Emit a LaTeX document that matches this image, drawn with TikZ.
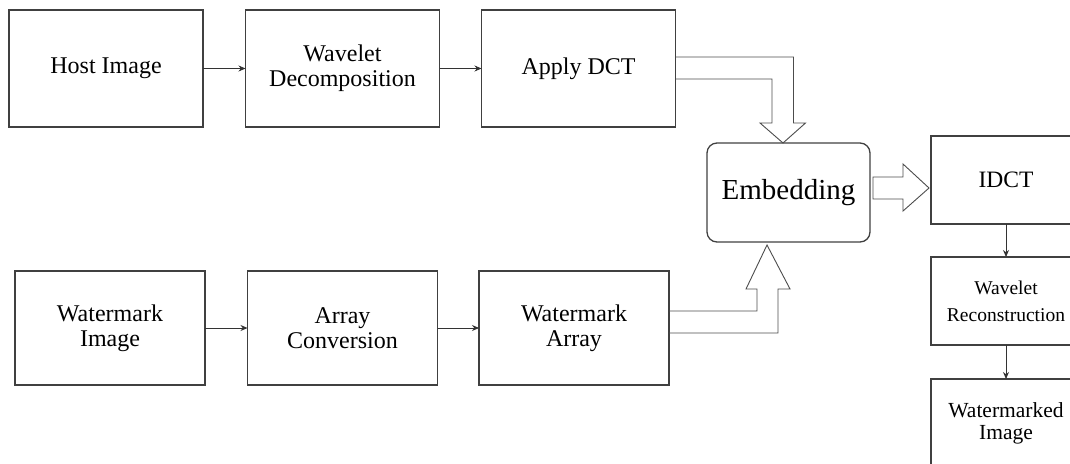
\documentclass[tikz,border=0pt]{standalone}
\usepackage{fontspec}
\setmainfont{Liberation Serif}
\usetikzlibrary{calc,arrows.meta}

\tikzset{
  stage/.style={draw=black!75, line width=1.3pt, inner sep=0pt, outer sep=0pt,
    align=center, font=\fontsize{24}{25}\selectfont},
  topstage/.style={stage, minimum width=194, minimum height=117},
  lowstage/.style={stage, minimum width=190, minimum height=114},
  outstage/.style={stage, minimum width=150, minimum height=88},
  flow/.style={draw=black!80, line width=0.9pt, -{Stealth[length=7pt,width=6pt]}},
  blockarrow/.style={draw=black!70, line width=0.9pt, line join=miter}
}

\begin{document}
\begin{tikzpicture}[x=1pt,y=-1pt]
  \useasboundingbox (0,0) rectangle (1070,463);
  \clip (0,0) rectangle (1070,463);

  % host image branch
  \node[topstage] (host) at (106,68.5) {Host Image};
  \node[topstage] (wdec) at (342.5,68.5) {Wavelet\\Decomposition};
  \node[topstage] (dct)  at (578.5,68.5) {Apply DCT};

  % watermark branch
  \node[lowstage] (wimg) at (110,328) {Watermark\\Image};
  \node[lowstage] (conv) at (342.5,328) {Array\\Conversion};
  \node[lowstage] (warr) at (574,328) {Watermark\\Array};

  % embedding
  \node[stage, rounded corners=10pt, minimum width=163, minimum height=99,
        font=\fontsize{29}{31}\selectfont] (emb) at (788.5,192.5) {Embedding};

  % output chain
  \node[outstage, font=\fontsize{23.5}{25}\selectfont] (idct) at (1006,180) {IDCT};
  \node[outstage, font=\fontsize{19.5}{27}\selectfont] (wrec) at (1006,301) {Wavelet\\Reconstruction};
  \node[outstage, font=\fontsize{21.5}{22}\selectfont] (wout) at (1006,423) {Watermarked\\Image};

  % thin connectors
  \draw[flow] (host) -- (wdec);
  \draw[flow] (wdec) -- (dct);
  \draw[flow] (wimg) -- (conv);
  \draw[flow] (conv) -- (warr);
  \draw[flow] (idct) -- (wrec);
  \draw[flow] (wrec) -- (wout);

  % hollow block arrow: DCT coefficients into embedding
  \draw[blockarrow] ($(dct.east)+(0,-11.5)$) -- ++(118,0) -- ++(0,66) -- ++(12,0)
    -- ($(emb.north)+(-5.5,0)$) -- ++(-23,-20) -- ++(12,0) -- ++(0,-44)
    -- ($(dct.east)+(0,10.5)$);

  % hollow block arrow: watermark array into embedding
  \draw[blockarrow] ($(warr.east)+(0,5)$) -- ++(109,0) -- ++(0,-44) -- ++(12,0)
    -- ($(emb.south)+(-21.5,3)$) -- ++(-21,44) -- ++(11,0) -- ++(0,22)
    -- ($(warr.east)+(0,-17)$);

  % hollow block arrow: embedding to inverse DCT
  \draw[blockarrow] ($(emb.east)+(3,-15.5)$) -- ++(30,0) -- ++(0,-13)
    -- ($(idct.west)+(-2,8)$) -- ++(-26,23) -- ++(0,-12) -- ++(-30,0) -- cycle;
\end{tikzpicture}
\end{document}
